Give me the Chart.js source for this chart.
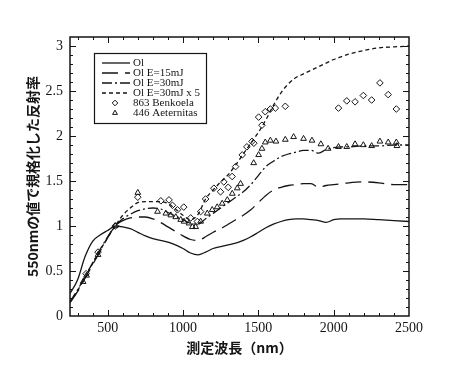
<!DOCTYPE html>
<html>
<head>
<meta charset="utf-8">
<script src="https://cdn.jsdelivr.net/npm/chart.js@4/dist/chart.umd.min.js"></script>
<style>
  body { margin: 0; background: #fff; }
  canvas { display: block; }
</style>
</head>
<body>
<canvas id="reflChart" width="450" height="374"></canvas>
<script>
// wavelength grid shared by the four model curves (nm)
const lineWave = [250, 300, 350, 400, 450, 500, 550, 600, 650, 700, 750, 800, 850, 900, 950, 1000,
    1050, 1100, 1150, 1200, 1250, 1300, 1350, 1400, 1450, 1500, 1550, 1600, 1650, 1700, 1750, 1800,
    1850, 1900, 1950, 2000, 2050, 2100, 2200, 2300, 2400, 2500];

const olRefl = [0.25, 0.40, 0.66, 0.83, 0.90, 0.95, 1.00, 0.99, 0.97, 0.93, 0.89, 0.86, 0.84, 0.82, 0.79, 0.75,
    0.70, 0.68, 0.71, 0.75, 0.77, 0.79, 0.81, 0.84, 0.88, 0.93, 0.98, 1.02, 1.05, 1.07, 1.08, 1.08,
    1.07, 1.06, 1.04, 1.07, 1.08, 1.08, 1.08, 1.07, 1.06, 1.05];

const ol15Refl = [0.15, 0.27, 0.42, 0.57, 0.72, 0.87, 1.00, 1.06, 1.09, 1.10, 1.10, 1.08, 1.04, 0.99, 0.94, 0.89,
    0.85, 0.84, 0.88, 0.93, 0.97, 1.02, 1.07, 1.12, 1.18, 1.26, 1.34, 1.40, 1.43, 1.45, 1.46, 1.47,
    1.47, 1.43, 1.45, 1.46, 1.47, 1.48, 1.49, 1.48, 1.46, 1.46];

const ol30Refl = [0.16, 0.29, 0.44, 0.59, 0.74, 0.88, 1.00, 1.08, 1.13, 1.17, 1.19, 1.20, 1.19, 1.15, 1.11, 1.07,
    1.03, 1.02, 1.08, 1.14, 1.20, 1.26, 1.32, 1.38, 1.46, 1.56, 1.66, 1.72, 1.77, 1.80, 1.82, 1.84,
    1.84, 1.81, 1.85, 1.87, 1.88, 1.88, 1.89, 1.89, 1.90, 1.90];

const ol30x5Refl = [0.15, 0.28, 0.43, 0.58, 0.73, 0.87, 1.00, 1.12, 1.20, 1.26, 1.27, 1.27, 1.27, 1.25, 1.19, 1.12,
    1.07, 1.13, 1.30, 1.40, 1.49, 1.57, 1.68, 1.80, 1.92, 2.04, 2.18, 2.34, 2.48, 2.58, 2.65, 2.69,
    2.73, 2.77, 2.81, 2.85, 2.88, 2.91, 2.95, 2.98, 2.99, 3.00];

// asteroid spectra (points)
const benkoelaWave = [357, 436, 550, 700, 853, 907, 930, 963, 1005, 1051, 1095, 1117, 1150, 1205, 1249, 1271,
    1300, 1326, 1349, 1393, 1424, 1458, 1470, 1502, 1524, 1546, 1580, 1613, 1679,
    2032, 2087, 2142, 2197, 2252, 2307, 2362, 2416];
const benkoelaRefl = [0.47, 0.71, 1.00, 1.32, 1.28, 1.29, 1.23, 1.18, 1.21, 1.09, 1.05, 1.16, 1.30, 1.42, 1.38, 1.49,
    1.43, 1.55, 1.66, 1.79, 1.88, 1.94, 1.92, 2.21, 2.12, 2.27, 2.30, 2.31, 2.33,
    2.31, 2.39, 2.38, 2.45, 2.40, 2.59, 2.46, 2.30];

const aeternitasWave = [337, 360, 436, 550, 700, 831, 886, 919, 952, 985, 1007, 1040, 1062, 1084, 1117, 1161,
    1194, 1227, 1260, 1294, 1327, 1360, 1382, 1469, 1502, 1524, 1546, 1580, 1617, 1679, 1734,
    1800, 1856, 1915, 1963, 2032, 2087, 2142, 2197, 2252, 2307, 2362, 2416, 2420];
const aeternitasRefl = [0.38, 0.45, 0.68, 1.00, 1.37, 1.16, 1.14, 1.12, 1.10, 1.07, 1.05, 1.03, 0.99, 0.99, 1.05, 1.14,
    1.18, 1.21, 1.25, 1.29, 1.36, 1.42, 1.47, 1.70, 1.79, 1.86, 1.93, 1.95, 1.94, 1.96, 1.99,
    1.97, 1.95, 1.91, 1.86, 1.88, 1.88, 1.91, 1.90, 1.89, 1.94, 1.93, 1.93, 1.89];

const xTicks = [500, 1000, 1500, 2000, 2500];
const yTicks = [0, 0.5, 1, 1.5, 2, 2.5, 3];

const ink = '#151515';
const serif = '"Liberation Serif", "DejaVu Serif", serif';
const gothic = '"Noto Sans CJK JP", "Noto Sans", sans-serif';

const toPoints = (xs, ys) => xs.map((v, i) => ({ x: v, y: ys[i] }));

let lineSet = (label, ys, dash) => ({
    label,
    data: toPoints(lineWave, ys),
    showLine: true,
    borderColor: ink,
    borderWidth: 1.3,
    borderDash: dash,
    pointRadius: 0,
    cubicInterpolationMode: 'monotone'
});

let markSet = (label, xs, ys, style) => ({
    label,
    data: toPoints(xs, ys),
    showLine: false,
    pointStyle: style,
    pointRadius: 3.3,
    borderColor: ink,
    borderWidth: 1,
    backgroundColor: 'rgba(0,0,0,0)'
});

// frame with inward ticks on all four sides
const framePlugin = {
    id: 'frame',
    afterDraw(chart) {
        const { ctx, chartArea: a, scales: { x, y } } = chart;
        ctx.save();
        ctx.strokeStyle = ink;
        ctx.lineWidth = 1.5;
        ctx.strokeRect(a.left, a.top, a.right - a.left, a.bottom - a.top);
        ctx.lineWidth = 1;
        ctx.beginPath();
        for (let v = 300; v < 2500; v += 100) {
            let px = Math.round(x.getPixelForValue(v)) + 0.5;
            let len = v % 500 === 0 ? 6 : 3;
            ctx.moveTo(px, a.bottom); ctx.lineTo(px, a.bottom - len);
            ctx.moveTo(px, a.top); ctx.lineTo(px, a.top + len);
        }
        for (let i = 1; i < 31; i++) {
            let py = Math.round(y.getPixelForValue(i / 10)) + 0.5;
            let len = i % 5 === 0 ? 6 : 3;
            ctx.moveTo(a.left, py); ctx.lineTo(a.left + len, py);
            ctx.moveTo(a.right, py); ctx.lineTo(a.right - len, py);
        }
        ctx.stroke();
        ctx.restore();
    }
};

// boxed legend in the upper left of the plot
const legendPlugin = {
    id: 'boxLegend',
    afterDraw(chart) {
        const { ctx, chartArea: a } = chart;
        const bx = a.left + 24, by = a.top + 16;
        ctx.save();
        ctx.fillStyle = '#fff';
        ctx.fillRect(bx, by, 112, 70);
        ctx.strokeStyle = ink;
        ctx.lineWidth = 1.2;
        ctx.strokeRect(bx + 0.5, by + 0.5, 112, 70);
        ctx.font = '11px ' + serif;
        ctx.textBaseline = 'middle';
        chart.data.datasets.forEach((ds, i) => {
            let ry = by + 10 + i * 10;
            ctx.strokeStyle = ink;
            if (ds.showLine) {
                ctx.lineWidth = ds.borderWidth;
                ctx.setLineDash(ds.borderDash || []);
                ctx.beginPath();
                ctx.moveTo(bx + 8, ry);
                ctx.lineTo(bx + 36, ry);
                ctx.stroke();
                ctx.setLineDash([]);
            } else {
                ctx.lineWidth = 1;
                ctx.fillStyle = '#fff';
                Chart.helpers.drawPoint(ctx, { pointStyle: ds.pointStyle, radius: 2.8, rotation: 0, borderWidth: 1 }, bx + 21, ry);
            }
            ctx.fillStyle = ink;
            ctx.fillText(ds.label, bx + 39, ry + 0.5);
        });
        ctx.restore();
    }
};

new Chart(document.getElementById('reflChart').getContext('2d'), {
    type: 'scatter',
    data: {
        datasets: [
            lineSet('Ol', olRefl, []),
            lineSet('Ol E=15mJ', ol15Refl, [16, 7]),
            lineSet('Ol E=30mJ', ol30Refl, [10, 3, 2, 3]),
            lineSet('Ol E=30mJ x 5', ol30x5Refl, [4, 3]),
            markSet('863 Benkoela', benkoelaWave, benkoelaRefl, 'rectRot'),
            markSet('446 Aeternitas', aeternitasWave, aeternitasRefl, 'triangle')
        ]
    },
    options: {
        responsive: false,
        animation: false,
        devicePixelRatio: 1,
        layout: { padding: { top: 37, right: 41, bottom: 0, left: 0 } },
        plugins: {
            legend: { display: false },
            tooltip: { enabled: false }
        },
        scales: {
            x: {
                type: 'linear',
                min: 250,
                max: 2500,
                afterBuildTicks: scale => { scale.ticks = xTicks.map(v => ({ value: v })); },
                afterFit: scale => { scale.height = 58; },
                grid: { display: false, drawTicks: false },
                border: { display: false },
                ticks: {
                    color: ink, padding: 4, maxRotation: 0,
                    font: { family: serif, size: 14 },
                    callback: v => String(v)
                },
                title: {
                    display: true,
                    text: '測定波長（nm）',
                    color: ink,
                    font: { family: gothic, size: 14, weight: 'bold' },
                    padding: { top: 0, bottom: 18 }
                }
            },
            y: {
                min: 0,
                max: 3.1,
                afterBuildTicks: scale => { scale.ticks = yTicks.map(v => ({ value: v })); },
                afterFit: scale => { scale.width = 70; },
                grid: { display: false, drawTicks: false },
                border: { display: false },
                ticks: {
                    color: ink, padding: 7,
                    font: { family: serif, size: 14 },
                    callback: v => String(v)
                },
                title: {
                    display: true,
                    text: '550nmの値で規格化した反射率',
                    color: ink,
                    font: { family: gothic, size: 14, weight: 'bold' },
                    padding: { top: 24, bottom: 0 }
                }
            }
        }
    },
    plugins: [framePlugin, legendPlugin]
});
</script>
</body>
</html>
